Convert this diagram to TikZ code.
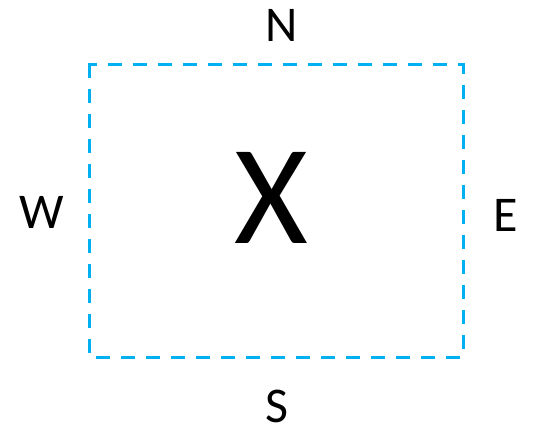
\documentclass[tikz,border=0pt]{standalone}
\usepackage{fontspec}
\setmainfont{Carlito}
\definecolor{boxblue}{HTML}{00B0F0}
\tikzset{
  dir/.style={inner sep=0pt, font=\fontsize{50}{50}\selectfont},
  bigletter/.style={inner sep=0pt, font=\fontsize{142}{142}\selectfont},
  dashbox/.style={draw=boxblue, line width=3pt, dash pattern=on 14pt off 11pt, line join=miter}
}
\begin{document}
\begin{tikzpicture}[x=1pt,y=1pt]
\useasboundingbox (0,0) rectangle (537,429);
\draw[dashbox] (89,358) -- (89,364) -- (463,364) -- (463,72) -- (89,72) -- cycle;
\node[bigletter] (x) at (271,231.5) {X};
\node[dir] (n) at (281.5,403.5) {N};
\node[dir] (w) at (42,217) {W};
\node[dir] (e) at (506,214) {E};
\node[dir] (s) at (277,23) {S};
\end{tikzpicture}
\end{document}
